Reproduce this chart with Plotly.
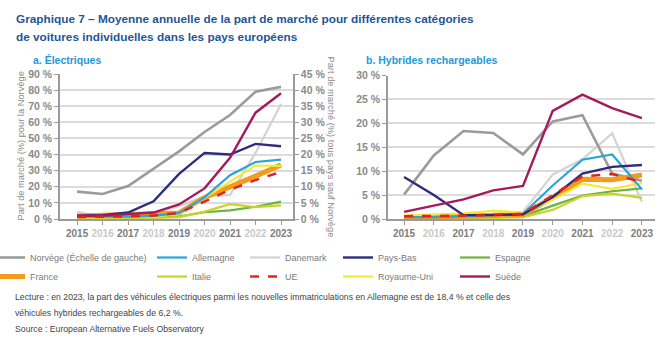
import plotly.graph_objects as go

W, H = 667, 342

years = [2015, 2016, 2017, 2018, 2019, 2020, 2021, 2022, 2023]

# Parts de marché des voitures électriques (%), Norvège sur l'échelle de gauche
ev_norvege = [17.0, 15.5, 20.5, 31.0, 42.0, 54.0, 64.5, 79.0, 82.0]
ev_allemagne = [0.7, 0.7, 0.7, 1.0, 1.8, 6.7, 13.6, 17.7, 18.4]
ev_danemark = [2.2, 0.6, 0.4, 2.0, 4.0, 7.0, 7.5, 20.5, 35.7]
ev_pays_bas = [1.0, 1.2, 2.0, 5.5, 14.0, 20.5, 20.0, 23.3, 22.6]
ev_espagne = [0.2, 0.2, 0.3, 0.5, 0.8, 2.1, 2.7, 3.8, 5.4]
ev_france = [0.9, 1.1, 1.2, 1.4, 1.9, 6.7, 9.8, 13.3, 16.8]
ev_italie = [0.1, 0.1, 0.1, 0.3, 0.6, 2.3, 4.6, 3.7, 4.2]
ev_ue = [0.6, 0.6, 0.8, 1.1, 1.9, 5.4, 9.1, 12.1, 14.6]
ev_royaume_uni = [0.5, 0.5, 0.5, 0.7, 1.6, 6.6, 11.6, 16.6, 16.5]
ev_suede = [1.0, 1.0, 1.5, 2.0, 4.5, 9.5, 19.0, 33.0, 39.0]

# Parts de marché des hybrides rechargeables (%)
phev_norvege = [5.1, 13.3, 18.4, 18.0, 13.5, 20.4, 21.7, 9.5, 8.0]
phev_allemagne = [0.4, 0.4, 0.6, 0.8, 1.1, 7.0, 12.4, 13.5, 6.2]
phev_danemark = [0.3, 0.3, 0.5, 1.0, 1.5, 9.3, 12.5, 17.9, 3.6]
phev_pays_bas = [8.8, 5.0, 0.8, 0.8, 1.0, 4.6, 9.5, 10.9, 11.3]
phev_espagne = [0.1, 0.2, 0.3, 0.4, 0.6, 2.8, 4.9, 5.8, 6.4]
phev_france = [0.3, 0.4, 0.6, 0.7, 0.9, 4.5, 8.3, 8.2, 9.2]
phev_italie = [0.1, 0.1, 0.1, 0.2, 0.4, 1.9, 4.8, 5.3, 4.4]
phev_ue = [0.6, 0.6, 0.7, 0.9, 1.1, 5.0, 8.9, 9.4, 7.7]
phev_royaume_uni = [0.7, 1.0, 1.2, 1.7, 1.4, 4.0, 7.4, 6.3, 7.5]
phev_suede = [1.5, 2.8, 4.1, 6.0, 6.9, 22.6, 26.0, 23.2, 21.1]

left_ticks = [0, 10, 20, 30, 40, 50, 60, 70, 80, 90]
right_ticks = [0, 5, 10, 15, 20, 25, 30, 35, 40, 45]
phev_ticks = [0, 5, 10, 15, 20, 25, 30]

series = [
    # nom, électriques, hybrides, couleur, épaisseur, tirets, colonne de légende, rang
    ("Danemark", ev_danemark, phev_danemark, "#d3d3d3", 2.2, "solid", 3, 1),
    ("Norvège (Échelle de gauche)", ev_norvege, phev_norvege, "#9b9b9b", 2.6, "solid", 1, 1),
    ("Espagne", ev_espagne, phev_espagne, "#6cb33f", 2.2, "solid", 5, 1),
    ("Italie", ev_italie, phev_italie, "#c9d32b", 2.2, "solid", 2, 2),
    ("France", ev_france, phev_france, "#f39b1f", 5.0, "solid", 1, 2),
    ("Royaume-Uni", ev_royaume_uni, phev_royaume_uni, "#f7e933", 2.2, "solid", 4, 2),
    ("Allemagne", ev_allemagne, phev_allemagne, "#2ba3dc", 2.2, "solid", 2, 1),
    ("Pays-Bas", ev_pays_bas, phev_pays_bas, "#2e2c7c", 2.4, "solid", 4, 1),
    ("Suède", ev_suede, phev_suede, "#a31b5c", 2.4, "solid", 5, 2),
    ("UE", ev_ue, phev_ue, "#e3231b", 2.4, "dash", 3, 2),
]

fig = go.Figure()

for name, ev, phev, color, width, dash, col, rank in series:
    legend_id = "legend" if col == 1 else f"legend{col}"
    line = dict(color=color, width=width, dash=dash)
    on_left = name.startswith("Norvège")
    fig.add_trace(go.Scatter(
        x=years, y=ev, name=name, mode="lines", line=line,
        xaxis="x", yaxis="y" if on_left else "y2",
        legend=legend_id, legendrank=rank, showlegend=True,
    ))
    fig.add_trace(go.Scatter(
        x=years, y=phev, name=name, mode="lines", line=line,
        xaxis="x2", yaxis="y3", showlegend=False,
    ))

GREY_TXT = "#8a8a8a"
SANS = "Liberation Sans, Arial"
tick_font = dict(family=SANS, size=10.5, color=GREY_TXT)


def year_labels():
    out = []
    for i, y in enumerate(years):
        c = "#7d7d7d" if i % 2 == 0 else "#c9c9c9"
        out.append(f"<b><span style='color:{c}'>{y}</span></b>")
    return out


def pct_labels(vals):
    return [f"<b>{v} %</b>" for v in vals]


def px(v):
    return v / W


def py(v):
    return 1 - v / H


xcommon = dict(
    tickmode="array", tickvals=years, ticktext=year_labels(), tickangle=0,
    showgrid=False, showline=True, linecolor="#9a9a9a", linewidth=1.5,
    ticks="outside", ticklen=4, tickcolor="#9a9a9a", tickwidth=1.2,
    tickfont=dict(family=SANS, size=10),
    zeroline=False, fixedrange=True,
)
ycommon = dict(
    showgrid=True, gridcolor="#dcdcdc", gridwidth=1.6,
    showline=True, linecolor="#9a9a9a", linewidth=1.5,
    ticks="outside", ticklen=4, tickcolor="#9a9a9a", tickwidth=1.2,
    tickfont=tick_font, zeroline=False, fixedrange=True, tickmode="array",
)

fig.update_layout(
    width=W, height=H,
    margin=dict(l=0, r=0, t=0, b=0, autoexpand=False),
    paper_bgcolor="white", plot_bgcolor="white",
    xaxis=dict(xcommon, domain=[px(60), px(293)], range=[2014.33, 2023.47], anchor="y"),
    yaxis=dict(ycommon, domain=[py(219), py(74)], range=[0, 90],
               tickvals=left_ticks, ticktext=pct_labels(left_ticks), anchor="x"),
    yaxis2=dict(ycommon, overlaying="y", side="right", range=[0, 45], showgrid=False,
                tickvals=right_ticks, ticktext=pct_labels(right_ticks), anchor="x"),
    xaxis2=dict(xcommon, domain=[px(388), px(655)], range=[2014.46, 2023.44], anchor="y3"),
    yaxis3=dict(ycommon, domain=[py(219), py(75.5)], range=[0, 30],
                tickvals=phev_ticks, ticktext=pct_labels(phev_ticks), anchor="x2"),
    showlegend=True,
)

# Légende en cinq colonnes de deux entrées
legend_font = dict(family=SANS, size=9, color="#7a7a7a")
col_x = [-10, 152, 245, 338, 455]
for i, x0 in enumerate(col_x, start=1):
    key = "legend" if i == 1 else f"legend{i}"
    fig.update_layout({key: dict(
        x=px(x0), y=py(243), xanchor="left", yanchor="top",
        orientation="v", font=legend_font, bgcolor="rgba(0,0,0,0)",
        itemwidth=30, tracegroupgap=0, traceorder="normal",
    )})

title_font = dict(family=SANS, size=11.8, color="#1f5597")
note_font = dict(family=SANS, size=8.7, color="#444444")
sub_font = dict(family=SANS, size=10.5, color="#1e9ad8")
annotations = [
    dict(x=px(14), y=py(10), text="<b>Graphique 7 – Moyenne annuelle de la part de marché pour différentes catégories</b>",
         font=title_font),
    dict(x=px(14), y=py(28), text="<b>de voitures individuelles dans les pays européens</b>",
         font=title_font),
    dict(x=px(31), y=py(52), text="<b>a. Électriques</b>", font=sub_font),
    dict(x=px(364), y=py(52), text="<b>b. Hybrides rechargeables</b>", font=sub_font),
    dict(x=px(13), y=py(290), text="Lecture : en 2023, la part des véhicules électriques parmi les nouvelles immatriculations en Allemagne est de 18,4 % et celle des",
         font=note_font),
    dict(x=px(13), y=py(306), text="véhicules hybrides rechargeables de 6,2 %.", font=note_font),
    dict(x=px(13), y=py(322), text="Source : European Alternative Fuels Observatory", font=note_font),
]
for a in annotations:
    a.update(xref="paper", yref="paper", xanchor="left", yanchor="top", showarrow=False)

annotations.append(dict(
    x=px(20), y=py(146.5), xref="paper", yref="paper", textangle=-90, showarrow=False,
    text="Part de marché (%) pour la Norvège",
    font=dict(family=SANS, size=9.3, color=GREY_TXT),
    xanchor="center", yanchor="middle"))
annotations.append(dict(
    x=px(331), y=py(146.5), xref="paper", yref="paper", textangle=90, showarrow=False,
    text="Part de marché (%) tous pays sauf Norvège",
    font=dict(family=SANS, size=9.3, color=GREY_TXT),
    xanchor="center", yanchor="middle"))

fig.update_layout(annotations=annotations)

fig.write_html("out.html", config={"displayModeBar": False})
